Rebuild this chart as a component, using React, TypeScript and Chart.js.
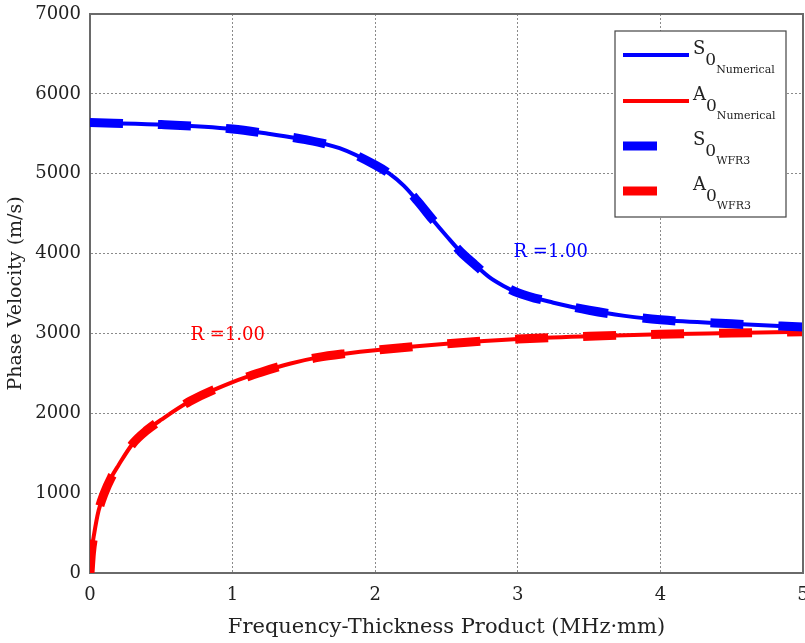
import React, { useEffect, useRef } from "react";
import { Chart, registerables } from "chart.js";

Chart.register(...registerables);

// ---- data ----
const s0X = [0, 0.5, 1.0, 1.25, 1.5, 1.75, 2.0, 2.1, 2.2, 2.3, 2.4, 2.5, 2.6, 2.7, 2.8, 2.9, 3.0, 3.25, 3.5, 3.75, 4.0, 4.5, 5.0];
const s0Numerical = [5640, 5615, 5560, 5500, 5430, 5320, 5110, 5000, 4850, 4650, 4430, 4220, 4020, 3860, 3705, 3595, 3510, 3385, 3290, 3220, 3170, 3120, 3080];
const s0Wfr3 = [5640, 5615, 5560, 5500, 5430, 5320, 5110, 5000, 4850, 4650, 4430, 4220, 4020, 3860, 3705, 3595, 3510, 3385, 3290, 3220, 3170, 3120, 3080];

const a0X = [0, 0.01, 0.03, 0.06, 0.1, 0.15, 0.2, 0.3, 0.4, 0.5, 0.7, 1.0, 1.2, 1.4, 1.6, 1.8, 2.0, 2.5, 3.0, 3.5, 4.0, 4.5, 5.0];
const a0Numerical = [0, 250, 500, 780, 1000, 1200, 1350, 1620, 1790, 1920, 2150, 2390, 2515, 2620, 2700, 2750, 2790, 2870, 2930, 2965, 2990, 3005, 3020];
const a0Wfr3 = [0, 250, 500, 780, 1000, 1200, 1350, 1620, 1790, 1920, 2150, 2390, 2515, 2620, 2700, 2750, 2790, 2870, 2930, 2965, 2990, 3005, 3020];

const xTickValues = [0, 1, 2, 3, 4, 5];
const yTickValues = [0, 1000, 2000, 3000, 4000, 5000, 6000, 7000];

const xTitle = "Frequency-Thickness Product (MHz\u00b7mm)";
const yTitle = "Phase Velocity (m/s)";

const rLabelText = ["R =1.00", "R =1.00"];
const rLabelX = [2.97, 0.705];
const rLabelY = [4020, 2970];

const legendMain = ["S", "A", "S", "A"];
const legendIndex = ["0", "0", "0", "0"];
const legendSub = ["Numerical", "Numerical", "WFR3", "WFR3"];

const BLUE = "#0000ff";
const RED = "#ff0000";
const FONT = "'DejaVu Serif', serif";
const TEXT = "#222222";

const toPoints = (xs: number[], ys: number[]) => xs.map((x, i) => ({ x, y: ys[i] }));

const framePlugin = {
  id: "frameAndExtras",
  afterDraw(chart: any) {
    const { ctx, chartArea, scales } = chart;
    ctx.save();
    // frame top/right
    ctx.strokeStyle = "#6a6a6a";
    ctx.lineWidth = 2;
    ctx.beginPath();
    ctx.moveTo(chartArea.left, chartArea.top);
    ctx.lineTo(chartArea.right, chartArea.top);
    ctx.lineTo(chartArea.right, chartArea.bottom);
    ctx.stroke();

    // R labels
    ctx.font = `18px ${FONT}`;
    ctx.textBaseline = "middle";
    ctx.textAlign = "left";
    const colors = [BLUE, RED];
    rLabelText.forEach((t, i) => {
      ctx.fillStyle = colors[i];
      ctx.fillText(t, scales.x.getPixelForValue(rLabelX[i]), scales.y.getPixelForValue(rLabelY[i]));
    });

    // legend
    const lx = 615, ly = 31, lw = 171, lh = 186;
    ctx.fillStyle = "#ffffff";
    ctx.fillRect(lx, ly, lw, lh);
    ctx.strokeStyle = "#444444";
    ctx.lineWidth = 1.2;
    ctx.strokeRect(lx, ly, lw, lh);
    const ds = chart.data.datasets;
    const rowY = [55, 101, 146, 191];
    for (let i = 0; i < 4; i++) {
      const d = ds[i];
      ctx.strokeStyle = d.borderColor;
      ctx.lineWidth = d.borderWidth;
      ctx.lineCap = "butt";
      ctx.setLineDash([]);
      ctx.beginPath();
      const len = i < 2 ? 66 : 34;
      ctx.moveTo(623, rowY[i]);
      ctx.lineTo(623 + len, rowY[i]);
      ctx.stroke();
      ctx.fillStyle = TEXT;
      ctx.textBaseline = "alphabetic";
      ctx.textAlign = "left";
      ctx.font = `18px ${FONT}`;
      const base = rowY[i] - 1;
      ctx.fillText(legendMain[i], 693, base);
      const w = ctx.measureText(legendMain[i]).width;
      ctx.font = `17px ${FONT}`;
      ctx.fillText(legendIndex[i], 693 + w, base + 11);
      const w2 = ctx.measureText(legendIndex[i]).width;
      ctx.font = `11px ${FONT}`;
      ctx.fillText(legendSub[i], 693 + w + w2, base + 19);
    }
    ctx.restore();
  },
};

export default function App() {
  const ref = useRef<HTMLCanvasElement | null>(null);
  useEffect(() => {
    document.body.style.margin = "0";
    const canvas = ref.current!;
    const chart = new Chart(canvas, {
      type: "line",
      data: {
        datasets: [
          {
            label: "S0 Numerical",
            data: toPoints(s0X, s0Numerical),
            borderColor: BLUE,
            backgroundColor: BLUE,
            borderWidth: 4,
            pointRadius: 0,
            cubicInterpolationMode: "monotone",
            order: 2,
          },
          {
            label: "A0 Numerical",
            data: toPoints(a0X, a0Numerical),
            borderColor: RED,
            backgroundColor: RED,
            borderWidth: 4,
            pointRadius: 0,
            cubicInterpolationMode: "monotone",
            order: 2,
          },
          {
            label: "S0 WFR3",
            data: toPoints(s0X, s0Wfr3),
            borderColor: BLUE,
            backgroundColor: BLUE,
            borderWidth: 9,
            borderDash: [33, 35],
            borderCapStyle: "butt",
            pointRadius: 0,
            cubicInterpolationMode: "monotone",
            order: 1,
          },
          {
            label: "A0 WFR3",
            data: toPoints(a0X, a0Wfr3),
            borderColor: RED,
            backgroundColor: RED,
            borderWidth: 9,
            borderDash: [33, 35],
            borderCapStyle: "butt",
            pointRadius: 0,
            cubicInterpolationMode: "monotone",
            order: 1,
          },
        ],
      },
      options: {
        animation: false,
        responsive: false,
        maintainAspectRatio: false,
        layout: { padding: { top: 14, right: 2, left: 0, bottom: 0 } },
        plugins: { legend: { display: false }, tooltip: { enabled: false } },
        scales: {
          x: {
            type: "linear",
            min: 0,
            max: 5,
            afterBuildTicks: (s: any) => {
              s.ticks = xTickValues.map((v) => ({ value: v }));
            },
            afterFit: (s: any) => {
              s.height = 70;
              s.paddingLeft = 0;
              s.paddingRight = 0;
            },
            ticks: { color: TEXT, font: { family: FONT, size: 18 }, padding: 12, maxRotation: 0, callback: (v: any) => String(v) },
            grid: { color: "#8a8a8a", lineWidth: 1, drawTicks: false },
            border: { color: "#6a6a6a", width: 2, dash: [2, 2] },
            title: { display: true, text: xTitle, color: TEXT, font: { family: FONT, size: 21 }, padding: { top: 0, bottom: 3 } },
          },
          y: {
            type: "linear",
            min: 0,
            max: 7000,
            afterBuildTicks: (s: any) => {
              s.ticks = yTickValues.map((v) => ({ value: v }));
            },
            afterFit: (s: any) => {
              s.width = 90;
              s.paddingTop = 0;
              s.paddingBottom = 0;
            },
            ticks: { color: TEXT, font: { family: FONT, size: 18 }, padding: 9, callback: (v: any) => String(v) },
            grid: { color: "#8a8a8a", lineWidth: 1, drawTicks: false },
            border: { color: "#6a6a6a", width: 2, dash: [2, 2] },
            title: { display: true, text: yTitle, color: TEXT, font: { family: FONT, size: 19 }, padding: { top: 5, bottom: 0 } },
          },
        },
      },
      plugins: [framePlugin],
    } as any);
    return () => chart.destroy();
  }, []);
  return <canvas ref={ref} width={805} height={643} style={{ display: "block" }} />;
}
